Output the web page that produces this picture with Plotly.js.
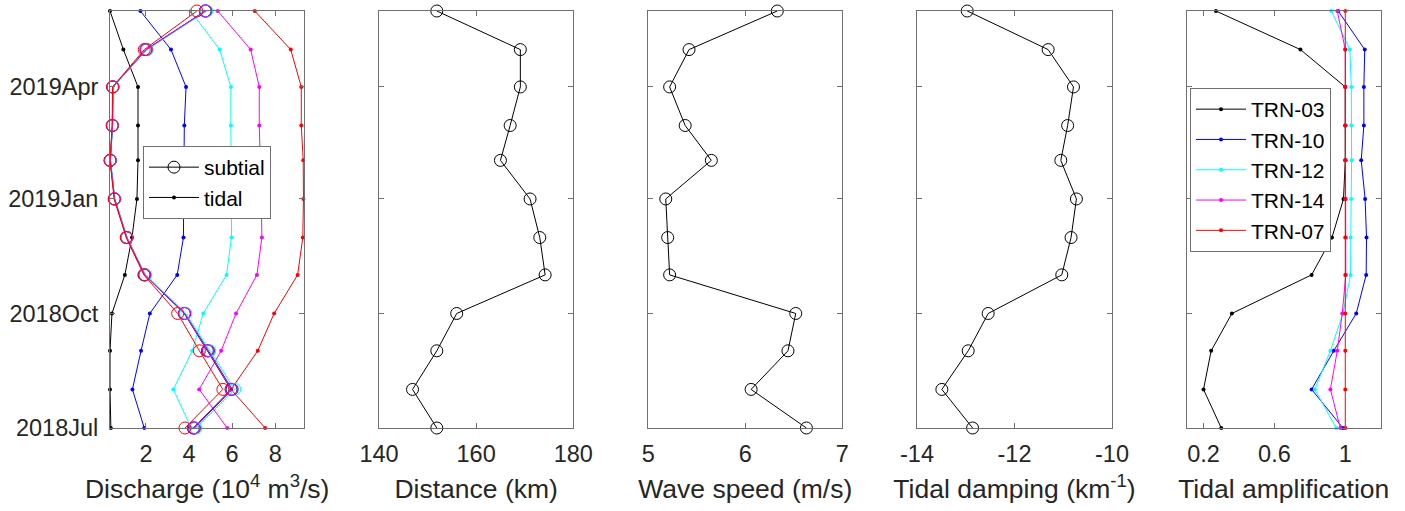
<!DOCTYPE html>
<html>
<head>
<meta charset="utf-8">
<script src="https://cdn.plot.ly/plotly-3.0.1.min.js"></script>
<style>html,body{margin:0;padding:0;background:#fff;}#chart{width:1405px;height:511px;}</style>
</head>
<body>
<div id="chart"></div>
<script>
// Monthly dates (y axis)
const months = ['2018-07-01','2018-08-01','2018-09-01','2018-10-01','2018-11-01','2018-12-01',
                '2019-01-01','2019-02-01','2019-03-01','2019-04-01','2019-05-01','2019-06-01'];
const dateTickVals = ['2018-07-01','2018-10-01','2019-01-01','2019-04-01'];
const dateTickText = ['2018Jul','2018Oct','2019Jan','2019Apr'];

const stations = ['TRN-03','TRN-10','TRN-12','TRN-14','TRN-07'];
const stationColors = ['#000000','#0000ff','#00ffff','#ff00ff','#ff0000'];

// Discharge (10^4 m3/s) – subtidal
const subtidal03 = [4.20, 5.95, 4.85, 3.78, 1.93, 1.10, 0.54, 0.34, 0.44, 0.46, 2.00, 4.75];
const subtidal10 = [4.25, 6.00, 4.90, 3.80, 1.95, 1.12, 0.55, 0.35, 0.45, 0.47, 2.03, 4.78];
const subtidal12 = [4.32, 6.12, 4.96, 3.85, 1.98, 1.12, 0.55, 0.35, 0.45, 0.47, 2.05, 4.82];
const subtidal14 = [4.22, 5.97, 4.87, 3.79, 1.94, 1.11, 0.54, 0.34, 0.44, 0.46, 2.01, 4.76];
const subtidal07 = [3.81, 5.57, 4.48, 3.47, 1.90, 1.08, 0.52, 0.33, 0.43, 0.45, 1.92, 4.36];
// Discharge – tidal
const tidal03 = [0.37, 0.33, 0.33, 0.42, 1.02, 1.35, 1.58, 1.63, 1.63, 1.63, 0.95, 0.33];
const tidal10 = [1.92, 1.37, 1.77, 2.18, 3.45, 3.74, 3.75, 3.76, 3.78, 3.86, 3.16, 1.74];
const tidal12 = [4.10, 3.27, 4.15, 4.66, 5.74, 5.97, 5.97, 5.94, 5.94, 5.94, 5.42, 4.07];
const tidal14 = [5.77, 4.47, 5.49, 6.18, 7.15, 7.38, 7.35, 7.29, 7.26, 7.26, 6.86, 5.33];
const tidal07 = [7.53, 5.95, 7.19, 7.95, 9.04, 9.28, 9.31, 9.30, 9.21, 9.21, 8.72, 7.05];

// Other panels
const distance  = [151.9, 146.9, 151.9, 156.0, 174.2, 173.1, 171.1, 165.0, 167.0, 169.1, 169.1, 151.9];
const waveSpeed = [6.63, 6.06, 6.44, 6.52, 5.22, 5.20, 5.18, 5.65, 5.38, 5.22, 5.42, 6.33];
const damping   = [-12.86, -13.49, -12.95, -12.54, -11.03, -10.84, -10.73, -11.05, -10.91, -10.79, -11.31, -12.97];

// Tidal amplification
const amp03 = [0.30, 0.20, 0.243, 0.36, 0.81, 0.925, 0.99, 1.0, 1.0, 1.0, 0.747, 0.27];
const amp10 = [0.987, 0.81, 0.935, 1.062, 1.118, 1.12, 1.112, 1.09, 1.105, 1.105, 1.11, 0.96];
const amp12 = [0.949, 0.828, 0.916, 0.987, 1.03, 1.03, 1.033, 1.036, 1.034, 1.034, 1.026, 0.921];
const amp14 = [0.972, 0.916, 0.955, 0.983, 1.003, 1.003, 1.002, 1.002, 1.002, 1.0, 1.0, 0.955];
const amp07 = [1, 1, 1, 1, 1, 1, 1, 1, 1, 1, 1, 1];

const subtidalSets = [subtidal03, subtidal10, subtidal12, subtidal14, subtidal07];
const tidalSets = [tidal03, tidal10, tidal12, tidal14, tidal07];
const ampSets = [amp03, amp10, amp12, amp14, amp07];

const W = 1405, H = 511;
const FONT = 'Liberation Sans, Arial, Helvetica, sans-serif';
const TXT = '#262626';
const AX = '#707070';

const traces = [];
function openCircle(x, color, xa, ya) {
  return {x: x, y: months, xaxis: xa, yaxis: ya, type: 'scatter', mode: 'lines+markers',
    line: {color: color, width: 1}, cliponaxis: false,
    marker: {symbol: 'circle-open', size: 12, color: color, line: {width: 1, color: color}},
    showlegend: false, hoverinfo: 'skip'};
}
function dotLine(x, color, xa, ya) {
  return {x: x, y: months, xaxis: xa, yaxis: ya, type: 'scatter', mode: 'lines+markers',
    line: {color: color, width: 1}, cliponaxis: false,
    marker: {symbol: 'circle', size: 4, color: color},
    showlegend: false, hoverinfo: 'skip'};
}
// Panel 1
for (let i = 0; i < 5; i++) traces.push(dotLine(tidalSets[i], stationColors[i], 'x', 'y'));
for (let i = 0; i < 5; i++) traces.push(openCircle(subtidalSets[i], stationColors[i], 'x', 'y'));
// Legend 1 entries
traces.push(Object.assign(openCircle([null], '#000000', 'x', 'y'), {y: [null], showlegend: true, name: 'subtial', legend: 'legend'}));
traces.push(Object.assign(dotLine([null], '#000000', 'x', 'y'), {y: [null], showlegend: true, name: 'tidal', legend: 'legend'}));
// Panels 2-4
traces.push(openCircle(distance, '#000000', 'x2', 'y2'));
traces.push(openCircle(waveSpeed, '#000000', 'x3', 'y3'));
traces.push(openCircle(damping, '#000000', 'x4', 'y4'));
// Panel 5
for (let i = 0; i < 5; i++) {
  const t = dotLine(ampSets[i], stationColors[i], 'x5', 'y5');
  t.showlegend = true; t.name = stations[i]; t.legend = 'legend2';
  traces.push(t);
}

const panelsX = [[110, 304.3], [379, 573.3], [648.3, 842.3], [917, 1112], [1186.7, 1380.7]];
const yDom = [1 - 428 / H, 1 - 11 / H];

const xRanges = [[0.33, 9.35], [140, 180], [5, 7], [-14, -10], [0.105, 1.2]];
const xTickVals = [[2, 4, 6, 8], [140, 160, 180], [5, 6, 7], [-14, -12, -10], [0.2, 0.6, 1]];
const xTickText = [['2','4','6','8'], ['140','160','180'], ['5','6','7'], ['-14','-12','-10'], ['0.2','0.6','1']];
const xTitles = ['Discharge (10<sup>4</sup> m<sup>3</sup>/s)', 'Distance (km)', 'Wave speed (m/s)',
                 'Tidal damping (km<sup>-1</sup>)', 'Tidal amplification'];

const legendFont = {family: FONT, size: 21, color: '#000'};
const layout = {
  width: W, height: H,
  margin: {l: 0, r: 0, t: 0, b: 0},
  paper_bgcolor: '#ffffff', plot_bgcolor: '#ffffff',
  font: {family: FONT, size: 23, color: TXT},
  showlegend: true,
  legend: {x: 143 / W, y: 1 - 146 / H, xanchor: 'left', yanchor: 'top',
    bgcolor: '#ffffff', bordercolor: AX, borderwidth: 1,
    font: legendFont, itemwidth: 50, tracegroupgap: 0},
  legend2: {x: 1190 / W, y: 1 - 88 / H, xanchor: 'left', yanchor: 'top',
    bgcolor: '#ffffff', bordercolor: AX, borderwidth: 1,
    font: legendFont, itemwidth: 50, tracegroupgap: 0}
};

for (let i = 0; i < 5; i++) {
  const sfx = i === 0 ? '' : String(i + 1);
  layout['xaxis' + sfx] = {
    domain: [panelsX[i][0] / W, panelsX[i][1] / W], anchor: 'y' + sfx,
    range: xRanges[i], tickmode: 'array', tickvals: xTickVals[i], ticktext: xTickText[i],
    showgrid: false, zeroline: false, showline: true, linecolor: AX, linewidth: 1,
    mirror: 'ticks', ticks: 'inside', ticklen: 5, tickcolor: AX, tickwidth: 1,
    tickfont: {family: FONT, size: 23.5, color: TXT}, ticklabelstandoff: 5,
    automargin: false,
    title: {text: xTitles[i], font: {family: FONT, size: 26.5, color: TXT}, standoff: 13}
  };
  layout['yaxis' + sfx] = {
    domain: yDom, anchor: 'x' + sfx, type: 'date',
    range: ['2018-07-01', '2019-06-01'], tickmode: 'array',
    tickvals: dateTickVals, ticktext: dateTickText, showticklabels: i === 0,
    showgrid: false, zeroline: false, showline: true, linecolor: AX, linewidth: 1,
    mirror: 'ticks', ticks: 'inside', ticklen: 5, tickcolor: AX, tickwidth: 1,
    tickfont: {family: FONT, size: 23.5, color: TXT}, ticklabelstandoff: 6,
    automargin: false
  };
}

Plotly.newPlot('chart', traces, layout, {staticPlot: true, displayModeBar: false});
</script>
</body>
</html>
